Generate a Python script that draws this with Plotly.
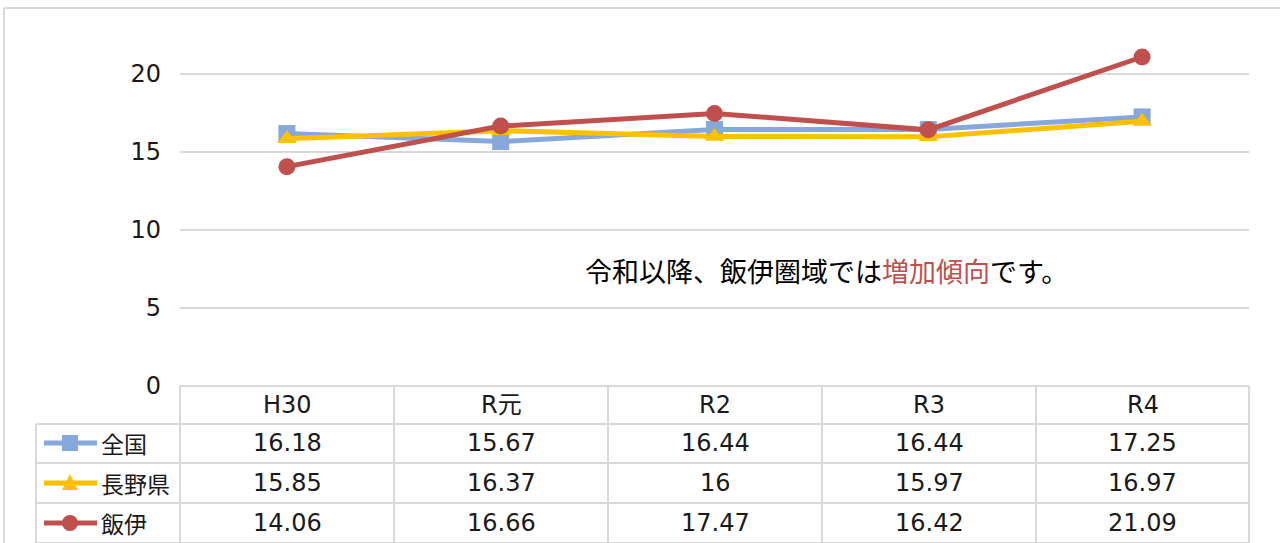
import plotly.graph_objects as go

categories = ["H30", "R元", "R2", "R3", "R4"]
series_names = ["全国", "長野県", "飯伊"]
zenkoku = [16.18, 15.67, 16.44, 16.44, 17.25]
nagano = [15.85, 16.37, 16, 15.97, 16.97]
iiI = [14.06, 16.66, 17.47, 16.42, 21.09]
table_labels = {
    "全国": ["16.18", "15.67", "16.44", "16.44", "17.25"],
    "長野県": ["15.85", "16.37", "16", "15.97", "16.97"],
    "飯伊": ["14.06", "16.66", "17.47", "16.42", "21.09"],
}
y_ticks = [0, 5, 10, 15, 20]

W, H = 1280, 543
L, R, T, B = 180, 1249, 10, 386
FONT = "DejaVu Sans, Noto Sans CJK JP"
JFONT = "Noto Sans CJK JP"
TXT = "#1a1a1a"
GRID = "#D9D9D9"
colors = {"全国": "#86A8DD", "長野県": "#FFC000", "飯伊": "#C0504D"}
symbols = {"全国": "square", "長野県": "triangle-up", "飯伊": "circle"}
values = {"全国": zenkoku, "長野県": nagano, "飯伊": iiI}

def px(x):
    return (x - L) / (R - L)

def py(y):
    return (B - y) / (B - T)

fig = go.Figure()
for name in series_names:
    fig.add_trace(go.Scatter(
        x=categories, y=values[name], mode="lines+markers", name=name,
        line=dict(color=colors[name], width=5),
        marker=dict(symbol=symbols[name], size=17, color=colors[name]),
        showlegend=False, cliponaxis=False, hoverinfo="skip",
    ))

shapes = []
def hline(y, x0, x1):
    shapes.append(dict(type="line", xref="paper", yref="paper", x0=px(x0), x1=px(x1),
                       y0=py(y), y1=py(y), line=dict(color=GRID, width=2), layer="below"))
def vline(x, y0, y1):
    shapes.append(dict(type="line", xref="paper", yref="paper", x0=px(x), x1=px(x),
                       y0=py(y0), y1=py(y1), line=dict(color=GRID, width=2), layer="below"))

# chart border
hline(8, 4, 1290)
vline(4, 8, 560)

# table grid
col_edges = [180, 394, 608, 822, 1036, 1249]
row_edges = [386, 424, 463, 503, 543]
hline(386, 180, 1249)
for y in row_edges[1:]:
    hline(y, 36, 1249)
for x in col_edges:
    vline(x, 386, 560)
vline(36, 424, 560)

annotations = []
# header
for i, c in enumerate(categories):
    cx = (col_edges[i] + col_edges[i + 1]) / 2
    annotations.append(dict(xref="paper", yref="paper", x=px(cx), y=py(405), text=c,
                            showarrow=False, font=dict(family=FONT, size=24, color=TXT),
                            xanchor="center", yanchor="middle"))
# rows
row_centers = [443, 483, 523]
for r, name in enumerate(series_names):
    cy = row_centers[r]
    for i, v in enumerate(table_labels[name]):
        cx = (col_edges[i] + col_edges[i + 1]) / 2
        annotations.append(dict(xref="paper", yref="paper", x=px(cx), y=py(cy), text=v,
                                showarrow=False, font=dict(family=FONT, size=24, color=TXT),
                                xanchor="center", yanchor="middle"))
    annotations.append(dict(xref="paper", yref="paper", x=px(99), y=py(cy), text=name,
                            showarrow=False, font=dict(family=JFONT, size=23, color=TXT),
                            xanchor="left", yanchor="middle"))
    # legend key line
    col = colors[name]
    shapes.append(dict(type="line", xref="paper", yref="paper", x0=px(44), x1=px(97),
                       y0=py(cy), y1=py(cy), line=dict(color=col, width=5)))
    mx, s = 70, 8
    if symbols[name] == "square":
        shapes.append(dict(type="rect", xref="paper", yref="paper", x0=px(mx - s), x1=px(mx + s),
                           y0=py(cy + s), y1=py(cy - s), fillcolor=col, line=dict(width=0)))
    elif symbols[name] == "circle":
        shapes.append(dict(type="circle", xref="paper", yref="paper", x0=px(mx - s), x1=px(mx + s),
                           y0=py(cy + s), y1=py(cy - s), fillcolor=col, line=dict(width=0)))
    else:
        path = "M {} {} L {} {} L {} {} Z".format(px(mx - s), py(cy + 7), px(mx + s), py(cy + 7), px(mx), py(cy - 9))
        shapes.append(dict(type="path", xref="paper", yref="paper", path=path, fillcolor=col, line=dict(width=0)))

# note text
annotations.append(dict(xref="paper", yref="paper", x=px(826), y=py(270),
                        text="令和以降、飯伊圏域では<span style='color:#C0504D'>増加傾向</span>です。",
                        showarrow=False, font=dict(family=JFONT, size=27, color="#000000"),
                        xanchor="center", yanchor="middle"))

fig.update_layout(
    width=W, height=H,
    margin=dict(l=L, r=W - R, t=T, b=H - B),
    paper_bgcolor="white", plot_bgcolor="white",
    xaxis=dict(type="category", range=[-0.5, 4.5], showticklabels=False, showgrid=False,
               zeroline=False, showline=False, ticks=""),
    yaxis=dict(range=[0, (B - T) / 15.6], tickvals=y_ticks, ticktext=[str(v) for v in y_ticks],
               showgrid=True, gridcolor=GRID, gridwidth=2, zeroline=False, showline=False,
               tickfont=dict(family=FONT, size=24, color=TXT), ticklabelstandoff=18, ticks=""),
    shapes=shapes, annotations=annotations,
)

fig.write_html("out.html", config={"displayModeBar": False},
               post_script="document.body.style.margin='0';document.body.style.overflow='hidden';")
